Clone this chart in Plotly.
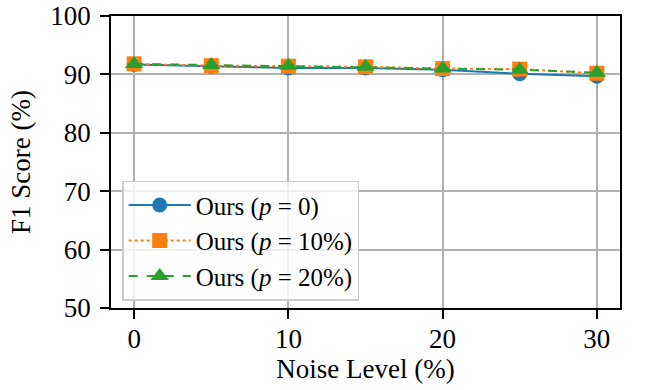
import plotly.graph_objects as go

noise = [0, 5, 10, 15, 20, 25, 30]
f1_p0 = [91.7, 91.4, 91.1, 91.1, 90.8, 90.1, 89.7]
f1_p10 = [91.8, 91.5, 91.4, 91.3, 91.0, 90.9, 90.2]
f1_p20 = [91.8, 91.6, 91.5, 91.3, 91.0, 90.8, 90.3]

names = ["Ours (<i>p</i> = 0)", "Ours (<i>p</i> = 10%)", "Ours (<i>p</i> = 20%)"]
colors = ["#1f77b4", "#ff7f0e", "#2ca02c"]
dashes = ["solid", "dot", "dash"]
symbols = ["circle", "square", "triangle-up"]
sizes = [15, 15, 16]

FONT = "Liberation Serif"

fig = go.Figure()
for ys, nm, c, d, s, sz in zip([f1_p0, f1_p10, f1_p20], names, colors, dashes, symbols, sizes):
    fig.add_trace(go.Scatter(
        x=noise, y=ys, name=nm, mode="lines+markers",
        line=dict(color=c, width=2, dash=d),
        marker=dict(symbol=s, size=sz, color=c, line=dict(width=0)),
    ))

axis_common = dict(
    showline=True, linecolor="black", linewidth=1.5, mirror=True,
    ticks="outside", ticklen=9, tickwidth=1.5, tickcolor="black",
    showgrid=True, gridcolor="#b0b0b0", gridwidth=1.5,
    zeroline=False, automargin=False, ticklabeloverflow="allow",
    tickfont=dict(family=FONT, size=27, color="black"),
)

fig.update_xaxes(range=[-1.5, 31.5], tickvals=[0, 10, 20, 30],
                 title=dict(text="Noise Level (%)", font=dict(family=FONT, size=27, color="black"), standoff=0),
                 ticklabelstandoff=-3, **axis_common)
fig.update_yaxes(range=[50, 100], tickvals=[50, 60, 70, 80, 90, 100],
                 title=dict(text="F1 Score (%)", font=dict(family=FONT, size=27, color="black"), standoff=12),
                 ticklabelstandoff=4, **axis_common)

fig.update_layout(
    width=645, height=390,
    margin=dict(l=111, r=25, t=16, b=82),
    plot_bgcolor="white", paper_bgcolor="white",
    font=dict(family=FONT, size=25, color="black"),
    legend=dict(
        x=0.022, y=0.025, xanchor="left", yanchor="bottom",
        bgcolor="rgba(255,255,255,0.8)", bordercolor="#cccccc", borderwidth=1.5,
        font=dict(family=FONT, size=25, color="black"),
        tracegroupgap=0, itemwidth=62,
    ),
)

fig.write_html("out.html", config={"displayModeBar": False},
               post_script="document.body.style.margin='0';")
